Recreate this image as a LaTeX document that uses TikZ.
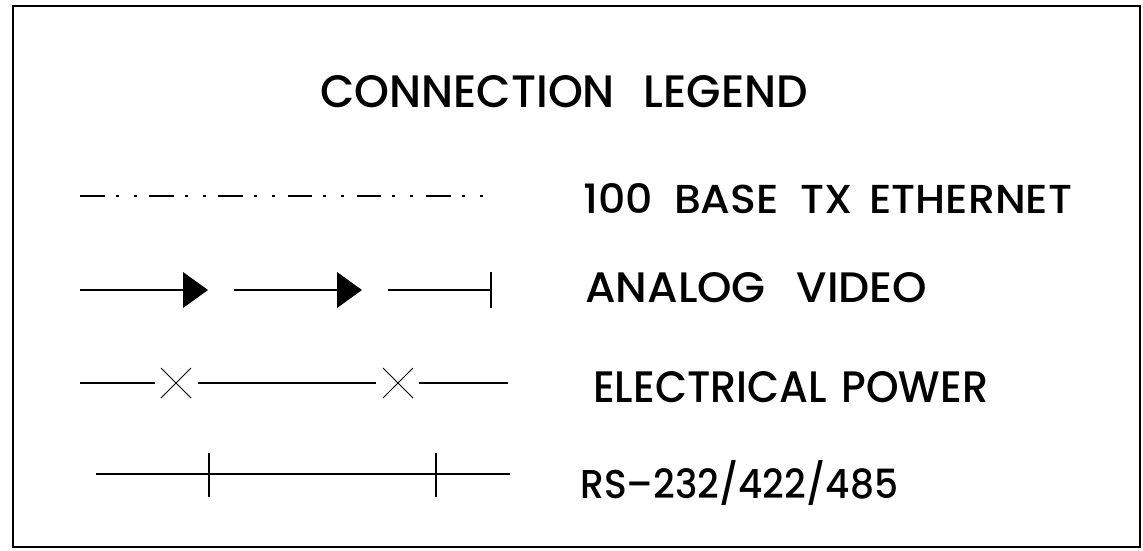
\documentclass[tikz,border=0pt]{standalone}
\usepackage{fontspec}
\usepackage{graphicx}
\setmainfont{Poppins}[UprightFont=* Medium]
\newcommand\fitbox[3]{\resizebox{#1pt}{#2pt}{#3}}
\begin{document}
\begin{tikzpicture}[x=1pt,y=-1pt,
  lab/.style={inner sep=0pt,anchor=base west,font=\fontsize{40}{44}\selectfont},
  wire/.style={line width=1.3pt,black},
  ether/.style={wire,dash pattern=on 24.5pt off 11pt on 3pt off 15pt on 3pt off 12.7pt},
  tri/.style={fill=black,draw=none}]
\useasboundingbox (0,0) rectangle (1143,550);
\draw[line width=1.3pt] (13,6) rectangle (1140,547);
% title
\node[lab] (title) at (320,107) {\fitbox{488}{32}{CONNECTION\hspace{0.65em}LEGEND}};
% labels
\node[lab] (eth) at (583,213) {\fitbox{489}{30}{100\hspace{0.5em}BASE\hspace{0.5em}TX\hspace{0.4em}ETHERNET}};
\node[lab] (vid) at (585,302) {\fitbox{342}{30}{ANALOG\hspace{0.7em}VIDEO}};
\node[lab] (pow) at (593,402) {\fitbox{395}{31}{ELECTRICAL\hspace{0.35em}POWER}};
\node[lab] (rs) at (580,498) {\fitbox{318}{30}{RS–232\smash{/}422\smash{/}485}};
% ethernet line
\coordinate (e1) at (80,196);
\coordinate (e2) at (484,196);
\draw[ether] (e1) -- (e2);
% analog video
\coordinate (v1) at (80,290);
\coordinate (v2) at (183,290);
\coordinate (v3) at (234,290);
\coordinate (v4) at (337,290);
\coordinate (v5) at (388,290);
\coordinate (v6) at (491,290);
\draw[wire] (v1) -- (v2);
\fill[tri] (v2) ++(0,-18) -- ++(25,18) -- ++(-25,18) -- cycle;
\draw[wire] (v3) -- (v4);
\fill[tri] (v4) ++(0,-18) -- ++(25,18) -- ++(-25,18) -- cycle;
\draw[wire] (v5) -- (v6);
\draw[line width=2.2pt] (v6) ++(0,-18) -- ++(0,36);
% electrical power
\coordinate (p1) at (80,383);
\coordinate (x1) at (176,383);
\coordinate (x2) at (398,383);
\coordinate (p2) at (508,383);
\draw[wire] (p1) -- ++(75,0);
\draw[line width=1pt] (x1) ++(-15,-15) -- ++(30,30) (x1) ++(-15,15) -- ++(30,-30);
\draw[wire] (198,383) -- (376,383);
\draw[line width=1pt] (x2) ++(-15,-15) -- ++(30,30) (x2) ++(-15,15) -- ++(30,-30);
\draw[wire] (419,383) -- (p2);
% RS-232
\coordinate (r1) at (96,474);
\coordinate (r2) at (510,474);
\draw[wire] (r1) -- (r2);
\draw[wire] (209,453) -- (209,497);
\draw[wire] (436,453) -- (436,497);
\end{tikzpicture}
\end{document}
